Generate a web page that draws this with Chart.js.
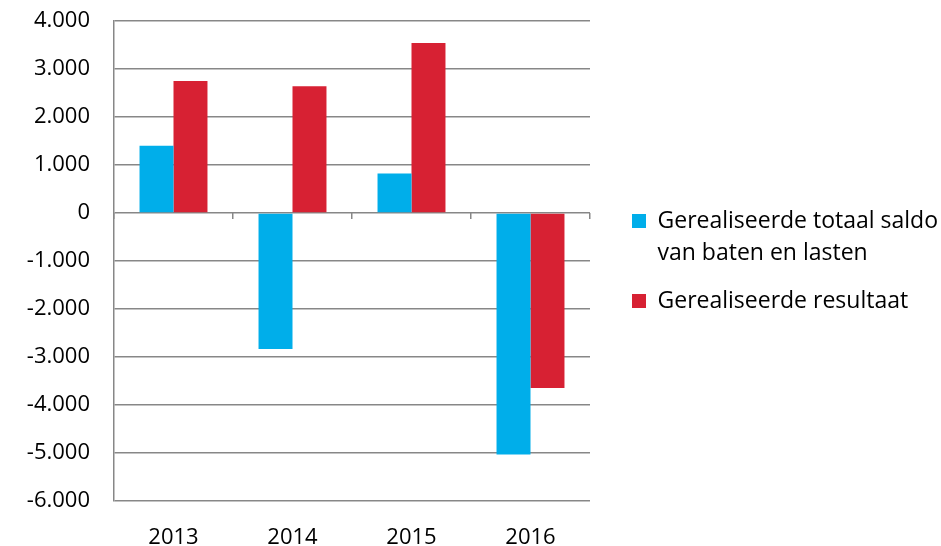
<!DOCTYPE html>
<html>
<head>
<meta charset="utf-8">
<script src="https://cdn.jsdelivr.net/npm/chart.js@4"></script>
<style>
  html, body { margin: 0; padding: 0; background: #ffffff; }
  canvas { display: block; }
</style>
</head>
<body>
<canvas id="chart" width="941" height="546"></canvas>
<script>
const years = ['2013', '2014', '2015', '2016'];
const saldoValues = [1400, -2835, 825, -5030];
const resultaatValues = [2750, 2640, 3540, -3645];
const seriesNames = ['Gerealiseerde totaal saldo van baten en lasten', 'Gerealiseerde resultaat'];
const legendLines = [['Gerealiseerde totaal saldo', 'van baten en lasten'], ['Gerealiseerde resultaat']];
const yMin = -6000;
const yMax = 4000;
const yStep = 1000;

const blue = '#00AEEA';
const red = '#D72133';
const gridGray = '#878787';
const fontFamily = '"Open Sans", "Noto Sans", sans-serif';
const legendFontSize = 23;
const legendPadding = 16;
const legendBox = 14;

const formatThousands = (value) => {
  const sign = value < 0 ? '-' : '';
  return sign + String(Math.abs(value)).replace(/\B(?=(\d{3})+(?!\d))/g, '.');
};

// legend should start at x=616 whatever its measured width is
const measure = document.createElement('canvas').getContext('2d');
measure.font = `${legendFontSize}px ${fontFamily}`;
const longestLine = Math.max(...legendLines.flat().map((t) => measure.measureText(t).width));
const legendNatural = legendPadding + legendBox + legendFontSize / 2 + longestLine + 10;
const legendSlot = 941 - 616;
const rightPad = Math.max(0, legendSlot - legendNatural);

const ctx = document.getElementById('chart');

new Chart(ctx, {
  type: 'bar',
  data: {
    labels: years,
    datasets: [
      {
        label: seriesNames[0],
        data: saldoValues,
        backgroundColor: blue,
        borderColor: blue,
        borderWidth: 0
      },
      {
        label: seriesNames[1],
        data: resultaatValues,
        backgroundColor: red,
        borderColor: red,
        borderWidth: 0
      }
    ]
  },
  options: {
    responsive: false,
    animation: false,
    categoryPercentage: 0.571,
    barPercentage: 1.0,
    layout: {
      padding: {top: 21, right: rightPad, bottom: 0, left: 0}
    },
    scales: {
      x: {
        offset: true,
        grid: {display: false, drawTicks: false},
        border: {display: false},
        ticks: {
          color: '#000000',
          padding: 26,
          font: {family: fontFamily, size: 22, lineHeight: 1}
        },
        afterFit: (scale) => {
          scale.height = 45;
        }
      },
      xZero: {
        type: 'category',
        position: {y: 0},
        offset: true,
        grid: {
          display: true,
          offset: true,
          drawOnChartArea: false,
          drawTicks: true,
          tickLength: 6,
          color: gridGray,
          lineWidth: 1.5
        },
        border: {display: false},
        ticks: {display: false}
      },
      y: {
        min: yMin,
        max: yMax,
        grid: {
          color: gridGray,
          lineWidth: 1.5,
          drawTicks: true,
          tickLength: 21,
          tickColor: 'rgba(0,0,0,0)'
        },
        border: {display: true, color: gridGray, width: 1.5},
        ticks: {
          stepSize: yStep,
          color: '#000000',
          padding: 3,
          font: {family: fontFamily, size: 22, lineHeight: 1},
          callback: (value) => formatThousands(value)
        },
        afterFit: (scale) => {
          scale.width = 114;
        }
      },
      yGap: {
        position: 'right',
        grid: {display: false, drawTicks: false},
        border: {display: false},
        ticks: {display: false},
        afterFit: (scale) => {
          scale.width = 26;
        }
      }
    },
    plugins: {
      tooltip: {enabled: false},
      legend: {
        position: 'right',
        align: 'center',
        fullSize: false,
        maxWidth: legendSlot,
        labels: {
          boxWidth: legendBox,
          boxHeight: legendBox,
          padding: legendPadding,
          color: '#000000',
          font: {family: fontFamily, size: legendFontSize, lineHeight: 32 / legendFontSize},
          generateLabels: (chart) => {
            const items = Chart.defaults.plugins.legend.labels.generateLabels(chart);
            return items.map((item, i) => {
              const lines = legendLines[i];
              item.text = lines.length > 1 ? lines : lines[0];
              return item;
            });
          }
        }
      }
    }
  }
});
</script>
</body>
</html>
